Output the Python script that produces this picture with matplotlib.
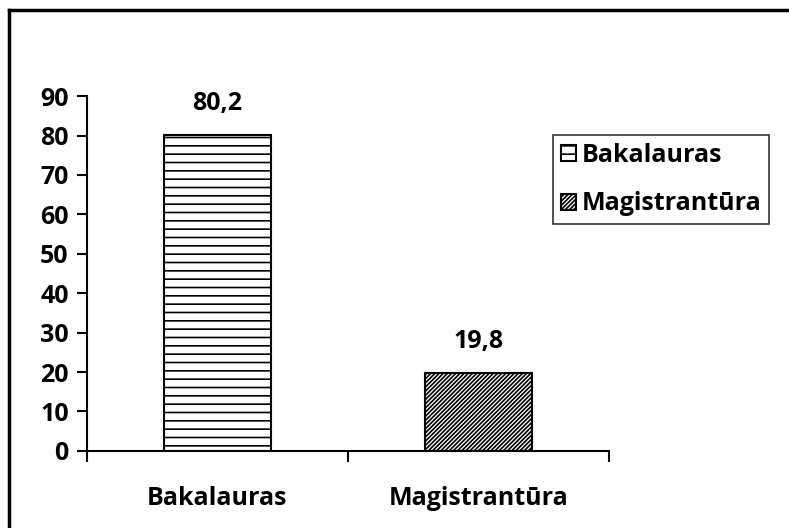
import matplotlib.pyplot as plt
from matplotlib.lines import Line2D

categories = ['Bakalauras', 'Magistrantūra']
values = [80.2, 19.8]
labels = ['80,2', '19,8']
hatches = ['--', '////////']

plt.rcParams['font.family'] = ['Open Sans', 'DejaVu Sans']
plt.rcParams['font.weight'] = 'bold'
plt.rcParams['hatch.linewidth'] = 1.2

fs = 18

fig = plt.figure(figsize=(7.89, 5.28), dpi=100)
ax = fig.add_axes([0.110, 0.146, 0.662, 0.672])

x = range(len(categories))
bars = ax.bar(x, values, width=0.41, color='white', edgecolor='black',
              linewidth=1.5, hatch=hatches)
bars[0].set_label(categories[0])
bars[1].set_label(categories[1])

for b, lab in zip(bars, labels):
    ax.text(b.get_x() + b.get_width() / 2, b.get_height() + 8, lab,
            ha='center', va='center', fontsize=fs, fontweight='bold')

ax.set_xlim(-0.5, 1.5)
ax.set_ylim(0, 90)
ax.set_yticks(range(0, 91, 10))
ax.tick_params(axis='y', labelsize=fs, length=7, width=1.5, direction='out', pad=6)
for t in ax.get_yticklabels():
    t.set_fontweight('bold')
ax.set_xticks([-0.5, 0.5, 1.5])
ax.set_xticklabels([])
ax.tick_params(axis='x', length=8, width=1.5, direction='out')
for i, c in enumerate(categories):
    ax.text(i, -12, c, ha='center', va='center', fontsize=fs, fontweight='bold')

for s in ['top', 'right']:
    ax.spines[s].set_visible(False)
for s in ['left', 'bottom']:
    ax.spines[s].set_linewidth(1.5)

leg = ax.legend(loc='upper left', bbox_to_anchor=(0.893, 0.89),
                prop={'size': fs, 'weight': 'bold'}, frameon=True,
                fancybox=False, edgecolor='black',
                handlelength=0.6, handleheight=0.6, handletextpad=0.25,
                borderpad=0.3, labelspacing=0.95, borderaxespad=0)
leg.get_frame().set_linewidth(1.2)

# partial frame around the chart area
fig.add_artist(Line2D([0.0115, 0.0115], [0.0, 0.982], color='black', lw=2.5,
                      transform=fig.transFigure))
fig.add_artist(Line2D([0.0115, 1.0], [0.982, 0.982], color='black', lw=2.5,
                      transform=fig.transFigure))

fig.savefig('out.png', dpi=100)
